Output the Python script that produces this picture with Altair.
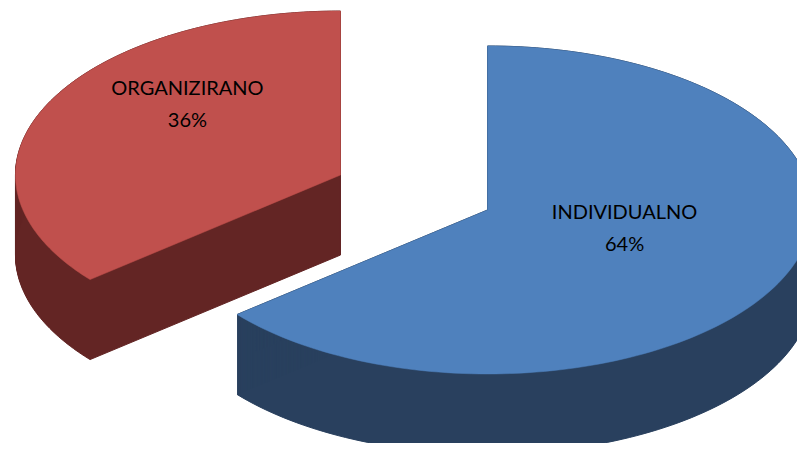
import altair as alt
import pandas as pd

# ---- data ----
categories = ["INDIVIDUALNO", "ORGANIZIRANO"]
values = [64, 36]
top_colors = ["#4F81BD", "#C0504D"]
side_colors = ["#29405E", "#632524"]

df = pd.DataFrame({"cat": categories, "value": values, "idx": list(range(len(categories)))})

# ---- geometry / style (pixel-like plot coordinates) ----
N = 160          # points along each arc
CX, CY = 414, 192.5   # common pie centre
RX, RY = 325, 164     # ellipse radii of the tilted pie top
E = 0.25              # explosion (fraction of radius)
D = 80                # depth of the 3-D extrusion
STEP = 1

X_DOM = [8, 797]
Y_DOM = [8, 443]
W = X_DOM[1] - X_DOM[0]
H = Y_DOM[1] - Y_DOM[0]

xs = alt.Scale(domain=X_DOM, nice=False, zero=False)
ys = alt.Scale(domain=Y_DOM, nice=False, zero=False, reverse=True)

base = (
    alt.Chart(df)
    .transform_joinaggregate(total="sum(value)")
    .transform_window(cum="sum(value)", sort=[alt.SortField("idx")], frame=[None, 0])
    .transform_calculate(a0="2*PI*(datum.cum-datum.value)/datum.total")
    .transform_calculate(a1="2*PI*datum.cum/datum.total")
    .transform_calculate(am="(datum.a0+datum.a1)/2")
    .transform_calculate(cx=f"{CX}+{E}*{RX}*sin(datum.am)")
    .transform_calculate(cy=f"{CY}-{E}*{RY}*cos(datum.am)")
)

wedge = (
    base.transform_calculate(j=f"sequence(0,{N + 3})")
    .transform_flatten(["j"])
    .transform_calculate(t=f"datum.a0+(datum.a1-datum.a0)*clamp(datum.j-1,0,{N})/{N}")
    .transform_calculate(apex=f"datum.j==0 || datum.j=={N + 2}")
    .transform_calculate(px=f"datum.apex ? datum.cx : datum.cx+{RX}*sin(datum.t)")
    .transform_calculate(py=f"datum.apex ? datum.cy : datum.cy-{RY}*cos(datum.t)")
)

layers = []
# draw the back slice (second category) first, then the front one
for i in [1, 0]:
    cat = categories[i]
    side = (
        wedge.transform_filter(alt.datum.cat == cat)
        .transform_calculate(s=f"sequence(0,{D + 1},{STEP})")
        .transform_flatten(["s"])
        .transform_calculate(sy="datum.py+datum.s")
        .mark_line(fill=side_colors[i], stroke=side_colors[i], strokeWidth=1, clip=True)
        .encode(
            x=alt.X("px:Q", scale=xs, axis=None),
            y=alt.Y("sy:Q", scale=ys, axis=None),
            detail="s:Q",
            order=alt.Order("j:Q"),
        )
    )
    top = (
        wedge.transform_filter(alt.datum.cat == cat)
        .mark_line(fill=top_colors[i], stroke=top_colors[i], strokeWidth=0.5, clip=True)
        .encode(
            x=alt.X("px:Q", scale=xs, axis=None),
            y=alt.Y("py:Q", scale=ys, axis=None),
            order=alt.Order("j:Q"),
        )
    )
    layers += [side, top]

# ---- labels ----
label_base = (
    base.transform_calculate(pct="format(datum.value/datum.total,'.0%')")
    .transform_calculate(lx=f"datum.cx+0.5*{RX}*sin(datum.am)")
    .transform_calculate(ly=f"datum.cy-0.5*{RY}*cos(datum.am)")
)
label_shift = {"INDIVIDUALNO": (-10, -32, 0), "ORGANIZIRANO": (-6, -51, -19)}
for cat in categories:
    dx, dy1, dy2 = label_shift[cat]
    for field, dy in [("cat", dy1), ("pct", dy2)]:
        layers.append(
            label_base.transform_filter(alt.datum.cat == cat)
            .mark_text(font="Lato", fontSize=20, color="#000000", dx=dx, dy=dy,
                       align="center", baseline="middle")
            .encode(
                x=alt.X("lx:Q", scale=xs, axis=None),
                y=alt.Y("ly:Q", scale=ys, axis=None),
                text=f"{field}:N",
            )
        )

chart = (
    alt.layer(*layers)
    .properties(width=W, height=H, padding=0, autosize=alt.AutoSizeParams(type="none"),
                background="white")
    .configure_view(stroke=None)
)

chart.save("out.html", embed_options={"renderer": "svg", "actions": False})
